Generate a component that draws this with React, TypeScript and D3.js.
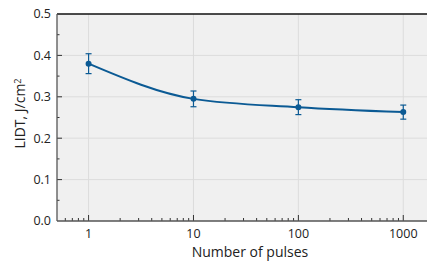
import React, { useEffect, useRef } from "react";
import * as d3 from "d3";

const pulses = [1, 10, 100, 1000];
const lidt = [0.38, 0.295, 0.275, 0.263];
const lidtErr = [0.024, 0.019, 0.018, 0.017];
const yTicks = [0, 0.1, 0.2, 0.3, 0.4, 0.5];
const xTicks = [1, 10, 100, 1000];

const App = () => {
  const ref = useRef<SVGSVGElement | null>(null);

  useEffect(() => {
    const width = 427;
    const height = 262;
    const left = 57;
    const top = 14;
    const bottom = 221;
    const right = 427;
    const font = "'Open Sans', 'DejaVu Sans', sans-serif";
    const blue = "#0b5a94";

    const svg = d3.select(ref.current).attr("width", width).attr("height", height);

    const x = d3.scaleLog().domain([0.5, 4000]).range([left, left + Math.log10(8000) * 104.9]);
    const y = d3.scaleLinear().domain([0, 0.5]).range([bottom, top]);

    svg
      .append("rect")
      .attr("x", left)
      .attr("y", top)
      .attr("width", right - left)
      .attr("height", bottom - top)
      .attr("fill", "#f0f0f0");

    // grid
    svg
      .selectAll(".gy")
      .data(yTicks.slice(1, -1))
      .enter()
      .append("line")
      .attr("x1", left)
      .attr("x2", right)
      .attr("y1", (d) => y(d))
      .attr("y2", (d) => y(d))
      .attr("stroke", "#dcdcdc")
      .attr("stroke-width", 1);

    svg
      .selectAll(".gx")
      .data(xTicks)
      .enter()
      .append("line")
      .attr("x1", (d) => x(d))
      .attr("x2", (d) => x(d))
      .attr("y1", top)
      .attr("y2", bottom)
      .attr("stroke", "#dcdcdc")
      .attr("stroke-width", 1);

    // minor ticks
    const yMinor = d3.range(0.05, 0.5, 0.1);
    svg
      .selectAll(".my")
      .data(yMinor)
      .enter()
      .append("line")
      .attr("x1", left)
      .attr("x2", left + 2.5)
      .attr("y1", (d) => y(d))
      .attr("y2", (d) => y(d))
      .attr("stroke", "#333");

    svg
      .selectAll(".ty")
      .data(yTicks.slice(1, -1))
      .enter()
      .append("line")
      .attr("x1", left)
      .attr("x2", left + 5)
      .attr("y1", (d) => y(d))
      .attr("y2", (d) => y(d))
      .attr("stroke", "#333");

    const xMinor: number[] = [];
    [0.1, 1, 10, 100, 1000].forEach((dec) => {
      for (let k = 2; k <= 9; k++) {
        const v = dec * k;
        if (v > 0.5 && v < 3000) xMinor.push(v);
      }
    });
    svg
      .selectAll(".mx")
      .data(xMinor)
      .enter()
      .append("line")
      .attr("x1", (d) => x(d))
      .attr("x2", (d) => x(d))
      .attr("y1", bottom)
      .attr("y2", bottom - 3)
      .attr("stroke", "#333");

    svg
      .selectAll(".tx")
      .data(xTicks)
      .enter()
      .append("line")
      .attr("x1", (d) => x(d))
      .attr("x2", (d) => x(d))
      .attr("y1", bottom)
      .attr("y2", bottom - 6)
      .attr("stroke", "#333");

    // axes frame
    svg
      .append("line")
      .attr("x1", left)
      .attr("x2", right)
      .attr("y1", top)
      .attr("y2", top)
      .attr("stroke", "#111")
      .attr("stroke-width", 1.3);
    svg
      .append("line")
      .attr("x1", left)
      .attr("x2", left)
      .attr("y1", top)
      .attr("y2", bottom)
      .attr("stroke", "#555")
      .attr("stroke-width", 1.3);
    svg
      .append("line")
      .attr("x1", left)
      .attr("x2", right)
      .attr("y1", bottom)
      .attr("y2", bottom)
      .attr("stroke", "#555")
      .attr("stroke-width", 1.3);

    // tick labels
    svg
      .selectAll(".ly")
      .data(yTicks)
      .enter()
      .append("text")
      .attr("x", left - 6)
      .attr("y", (d) => y(d))
      .attr("dy", "0.35em")
      .attr("text-anchor", "end")
      .style("font-family", font)
      .style("font-size", "12.5px")
      .attr("fill", "#222")
      .text((d) => d.toFixed(1));

    svg
      .selectAll(".lx")
      .data(xTicks)
      .enter()
      .append("text")
      .attr("x", (d) => x(d))
      .attr("y", bottom + 17)
      .attr("text-anchor", "middle")
      .style("font-family", font)
      .style("font-size", "12.5px")
      .attr("fill", "#222")
      .text((d) => String(d));

    svg
      .append("text")
      .attr("x", 250)
      .attr("y", 257)
      .attr("text-anchor", "middle")
      .style("font-family", font)
      .style("font-size", "14px")
      .attr("fill", "#222")
      .text("Number of pulses");

    const yl = svg
      .append("text")
      .attr("transform", `translate(25, ${(top + bottom) / 2 - 4}) rotate(-90)`)
      .attr("text-anchor", "middle")
      .style("font-family", font)
      .style("font-size", "14px")
      .attr("fill", "#222");
    yl.append("tspan").text("LIDT, J/cm");
    yl.append("tspan").attr("dy", "-0.45em").style("font-size", "9px").text("2");

    // data
    const data = pulses.map((p, i) => ({ p, v: lidt[i], e: lidtErr[i] }));
    const line = d3
      .line<{ p: number; v: number }>()
      .x((d) => x(d.p))
      .y((d) => y(d.v))
      .curve(d3.curveMonotoneX);

    svg
      .append("path")
      .datum(data)
      .attr("d", line)
      .attr("fill", "none")
      .attr("stroke", blue)
      .attr("stroke-width", 2);

    const eb = svg.selectAll(".eb").data(data).enter().append("g");
    eb.append("line")
      .attr("x1", (d) => x(d.p))
      .attr("x2", (d) => x(d.p))
      .attr("y1", (d) => y(d.v + d.e))
      .attr("y2", (d) => y(d.v - d.e))
      .attr("stroke", blue)
      .attr("stroke-width", 1.2);
    [1, -1].forEach((s) => {
      eb.append("line")
        .attr("x1", (d) => x(d.p) - 3)
        .attr("x2", (d) => x(d.p) + 3)
        .attr("y1", (d) => y(d.v + s * d.e))
        .attr("y2", (d) => y(d.v + s * d.e))
        .attr("stroke", blue)
        .attr("stroke-width", 1.2);
    });
    eb.append("circle")
      .attr("cx", (d) => x(d.p))
      .attr("cy", (d) => y(d.v))
      .attr("r", 3)
      .attr("fill", blue);

    return () => {
      d3.select(ref.current).selectAll("*").remove();
    };
  }, []);

  return (
    <svg
      ref={ref}
      style={{ position: "absolute", left: 0, top: 0, display: "block" }}
    ></svg>
  );
};

export default App;
